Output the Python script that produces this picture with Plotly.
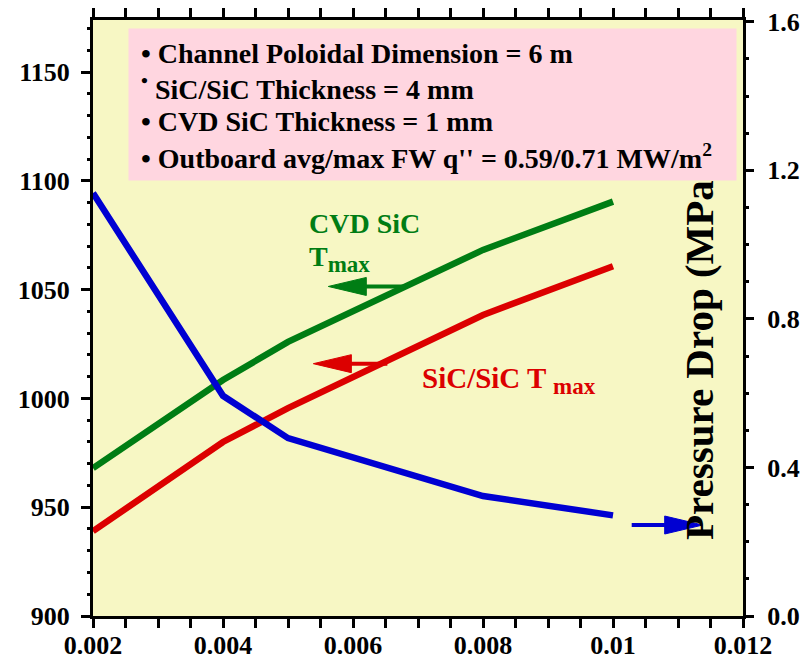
import plotly.graph_objects as go

# ---- data ----
coolant_dim = [0.002, 0.004, 0.005, 0.008, 0.010]          # x values
cvd_sic_tmax = [968.0, 1008.5, 1026.0, 1068.3, 1090.5]      # left axis
sic_sic_tmax = [939.0, 980.0, 995.6, 1038.4, 1060.8]        # left axis
pressure_drop = [1.139, 0.593, 0.479, 0.323, 0.271]         # right axis (MPa)

x_ticks = [0.002, 0.004, 0.006, 0.008, 0.010, 0.012]
x_ticklabels = ["0.002", "0.004", "0.006", "0.008", "0.01", "0.012"]
y_ticks = [900, 950, 1000, 1050, 1100, 1150]
y2_ticks = [0.0, 0.4, 0.8, 1.2, 1.6]
y2_ticklabels = ["0.0", "0.4", "0.8", "1.2", "1.6"]

box_lines = [
    "• Channel Poloidal Dimension = 6 m",
    "<sup>•</sup> SiC/SiC Thickness = 4 mm",
    "• CVD SiC Thickness = 1 mm",
    "• Outboard avg/max FW q'' = 0.59/0.71 MW/m<sup>2</sup>",
]

FONT = "Liberation Serif, Times New Roman, serif"
BLUE = "#0000D2"
GREEN = "#007D14"
RED = "#DC0000"
PLOT_BG = "#F7F7C4"
PINK = "#FFD6E0"

fig = go.Figure()
fig.add_trace(go.Scatter(x=coolant_dim, y=pressure_drop, mode="lines", yaxis="y2",
                         line=dict(color=BLUE, width=6.5), showlegend=False))
fig.add_trace(go.Scatter(x=coolant_dim, y=cvd_sic_tmax, mode="lines",
                         line=dict(color=GREEN, width=6.5), showlegend=False))
fig.add_trace(go.Scatter(x=coolant_dim, y=sic_sic_tmax, mode="lines",
                         line=dict(color=RED, width=6.5), showlegend=False))

tickfont = dict(family=FONT, size=26, color="black", weight="bold")

fig.update_layout(
    width=811, height=666,
    margin=dict(l=93, r=68, t=20, b=50),
    paper_bgcolor="white",
    plot_bgcolor=PLOT_BG,
    showlegend=False,
    xaxis=dict(range=[0.002, 0.012], tickvals=x_ticks, ticktext=x_ticklabels, automargin=False,
               showgrid=False, zeroline=False, showline=True, linewidth=3, linecolor="black",
               mirror="allticks", ticks="outside", ticklen=9, tickwidth=3, tickcolor="black",
               minor=dict(dtick=0.0005, ticks="outside", ticklen=3, tickwidth=3, tickcolor="black"),
               tickfont=tickfont, ticklabelstandoff=-5),
    yaxis=dict(range=[900, 1174], tickvals=y_ticks, automargin=False,
               showgrid=False, zeroline=False, showline=True, linewidth=3, linecolor="black",
               ticks="outside", ticklen=9, tickwidth=3, tickcolor="black",
               minor=dict(dtick=10, ticks="outside", ticklen=3, tickwidth=3, tickcolor="black"),
               tickfont=tickfont, ticklabelstandoff=6),
    yaxis2=dict(range=[0, 1.605], tickvals=y2_ticks, ticktext=y2_ticklabels, automargin=False,
                overlaying="y", side="right",
                showgrid=False, zeroline=False, showline=True, linewidth=3, linecolor="black",
                ticks="outside", ticklen=8, tickwidth=3, tickcolor="black",
                minor=dict(dtick=0.1, ticks="outside", ticklen=3, tickwidth=3, tickcolor="black"),
                tickfont=tickfont, ticklabelstandoff=8),
)

ann = []
# right-axis title, drawn inside the plot (partially hidden by the pink box)
ann.append(dict(text="Pressure Drop (MPa)", textangle=-90, xref="paper", yref="paper",
                x=0.932, y=0.441, xanchor="center", yanchor="middle", showarrow=False,
                font=dict(family=FONT, size=41, color="black", weight="bold")))
# pink info box
ann.append(dict(text=" ", xref="paper", yref="paper", x=(128 - 93) / 650, y=(616 - 28) / 596,
                xanchor="left", yanchor="top", width=607, height=151, bgcolor=PINK,
                borderpad=0, showarrow=False, font=dict(size=10)))
line_y = [54, 88, 121, 156]
for txt, yy in zip(box_lines, line_y):
    ann.append(dict(text=txt, xref="paper", yref="paper", x=(139 - 93) / 650,
                    y=(616 - yy) / 596, xanchor="left", yanchor="middle", showarrow=False,
                    align="left",
                    font=dict(family=FONT, size=28, color="black", weight="bold")))
# curve labels
ann.append(dict(text="CVD SiC", xref="paper", yref="paper", x=(307 - 93) / 650,
                y=(616 - 223) / 596, xanchor="left", yanchor="middle", showarrow=False,
                font=dict(family=FONT, size=28, color=GREEN, weight="bold")))
ann.append(dict(text="T<sub><span style='font-size:23px'>max</span></sub>", xref="paper",
                yref="paper", x=(307 - 93) / 650,
                y=(616 - 259) / 596, xanchor="left", yanchor="middle", showarrow=False,
                font=dict(family=FONT, size=28, color=GREEN, weight="bold")))
ann.append(dict(text="SiC/SiC T <sub><span style='font-size:23px'>max</span></sub>",
                xref="paper", yref="paper", x=(420 - 93) / 650,
                y=(616 - 380) / 596, xanchor="left", yanchor="middle", showarrow=False,
                font=dict(family=FONT, size=29, color=RED, weight="bold")))
fig.update_layout(annotations=ann)

# arrows (head tip anchored in data coordinates, sized in pixels)
arrows = [
    dict(x=0.00562, y=1051.5, yref="y", color=GREEN, direction=-1, length=77),
    dict(x=0.00539, y=1016.0, yref="y", color=RED, direction=-1, length=74),
    dict(x=0.01138, y=0.245, yref="y2", color=BLUE, direction=1, length=71),
]
shapes = []
for a in arrows:
    d = a["direction"]
    head = 38
    # shaft
    shapes.append(dict(type="line", xref="x", yref=a["yref"], xsizemode="pixel", ysizemode="pixel",
                       xanchor=a["x"], yanchor=a["y"], x0=-d * (head - 2), x1=-d * a["length"],
                       y0=0, y1=0, line=dict(color=a["color"], width=4), layer="above"))
    # head
    shapes.append(dict(type="path", xref="x", yref=a["yref"], xsizemode="pixel", ysizemode="pixel",
                       xanchor=a["x"], yanchor=a["y"],
                       path=f"M0,0 L{-d*head},9 L{-d*head},-9 Z",
                       fillcolor=a["color"], line=dict(color=a["color"], width=1), layer="above"))
fig.update_layout(shapes=shapes)

fig.write_html("out.html")
